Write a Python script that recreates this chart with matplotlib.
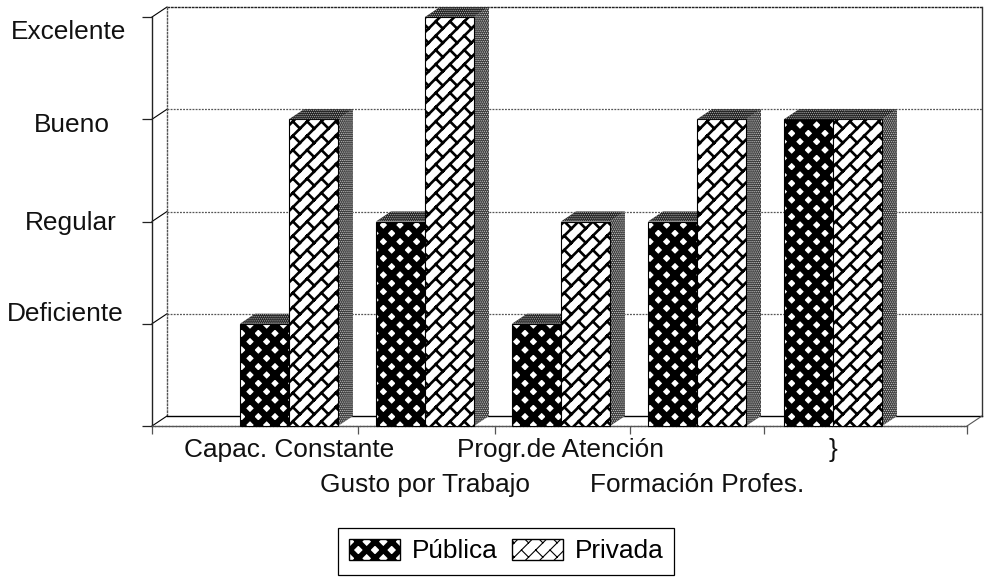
import numpy as np
import matplotlib
matplotlib.use("Agg")
import matplotlib.pyplot as plt
from matplotlib import hatch as mhatch
from matplotlib.patches import Patch, Polygon
from matplotlib.path import Path

categorias = ["Capac. Constante", "Gusto por Trabajo", "Progr.de Atención", "Formación Profes.", "}"]
publica = [1, 2, 1, 2, 3]
privada = [3, 4, 2, 3, 3]
niveles = ["Deficiente", "Regular", "Bueno", "Excelente"]

plt.rcParams['font.family'] = ['Liberation Sans', 'DejaVu Sans']


# ladrillos en diagonal: no hay hatch asi en matplotlib, se usa el simbolo '*'
class BrickHatch(mhatch.HatchPatternBase):
    def __init__(self, hatch, density):
        segs = []
        if '*' in hatch:
            n = 7
            for k in range(-2 * n, 2 * n):
                off = k / n
                segs.append([[-1, -1 + off], [2, 2 + off]])
                for j in range(-n, 2 * n):
                    t = j / n
                    segs.append([[t, t + off], [t - 1 / (2 * n), t + 1 / (2 * n) + off]])
        self.segs = np.array(segs).reshape(-1, 2, 2)
        self.num_vertices = len(self.segs) * 2

    def set_vertices_and_codes(self, vertices, codes):
        vertices[0::2] = self.segs[:, 0]
        vertices[1::2] = self.segs[:, 1]
        codes[0::2] = Path.MOVETO
        codes[1::2] = Path.LINETO


mhatch._hatch_types = [BrickHatch if t is mhatch.Stars else t for t in mhatch._hatch_types]

W, H = 991, 583
fig = plt.figure(figsize=(W / 100, H / 100), dpi=100)
ax = fig.add_axes([152 / W, 1 - 426 / H, (967 - 152) / W, (426 - 17) / H])

x = np.arange(len(categorias))
ancho = 0.36
ax.set_xlim(-1.007, 4.985)
ax.set_ylim(0, 4)

# profundidad del 3D en unidades de datos
dx = 15 / 136
dy = 10 / 102.25

# paredes del fondo
gris = '#555555'
for v in [1, 2, 3]:
    ax.plot([-1.007 + dx, 4.985 + dx], [v + dy, v + dy], color=gris, lw=0.9, ls=(0, (1.5, 1)), clip_on=False, zorder=1)
    ax.plot([-1.007, -1.007 + dx], [v, v + dy], color='black', lw=0.8, clip_on=False, zorder=1)
ax.plot([-1.007 + dx, 4.985 + dx], [4 + dy, 4 + dy], color='#222222', lw=1.0, ls=(0, (2, 0.5)), clip_on=False, zorder=1)
ax.plot([-1.007, -1.007 + dx], [4, 4 + dy], color='black', lw=0.8, clip_on=False, zorder=1)
ax.plot([-1.007 + dx, -1.007 + dx], [dy, 4 + dy], color=gris, lw=1.0, ls=(0, (2, 0.5)), clip_on=False, zorder=1)
ax.plot([4.985 + dx, 4.985 + dx], [dy, 4 + dy], color='#333333', lw=1.0, clip_on=False, zorder=1)
ax.plot([-1.007 + dx, 4.985 + dx], [dy, dy], color='black', lw=1.0, clip_on=False, zorder=1)
ax.plot([-1.007, -1.007 + dx], [0, dy], color='black', lw=0.8, clip_on=False, zorder=1)
ax.plot([4.985, 4.985 + dx], [0, dy], color=gris, lw=0.8, clip_on=False, zorder=1)

z = 3
for serie, hatch, lw, desplaz in [(publica, 'xx', 4.6, -ancho / 2), (privada, '*', 1.9, ancho / 2)]:
    barras = ax.bar(x + desplaz, serie, ancho, color='white', edgecolor='black', linewidth=0.8,
                    hatch=hatch, zorder=z + 1, clip_on=False)
    for b in barras:
        b.set_hatch_linewidth(lw)
        x0, x1, top = b.get_x(), b.get_x() + b.get_width(), b.get_height()
        lado = Polygon([[x1, 0], [x1 + dx, dy], [x1 + dx, top + dy], [x1, top]], closed=True,
                       facecolor='#3a3a3a', edgecolor='#d0d0d0', lw=0, hatch='........', zorder=z, clip_on=False)
        techo = Polygon([[x0, top], [x0 + dx, top + dy], [x1 + dx, top + dy], [x1, top]], closed=True,
                        facecolor='#222222', edgecolor='#aaaaaa', lw=0, hatch='........', zorder=z + 2, clip_on=False)
        lado.set_hatch_linewidth(0.6)
        techo.set_hatch_linewidth(0.6)
        ax.add_patch(lado)
        ax.add_patch(techo)
    z += 3

for lado in ['top', 'right']:
    ax.spines[lado].set_visible(False)
ax.spines['left'].set_color('#222222')
ax.spines['left'].set_linewidth(1.0)
ax.spines['bottom'].set_color(gris)
ax.spines['bottom'].set_linewidth(1.0)
ax.spines['bottom'].set_linestyle((0, (2, 0.5)))

ax.set_yticks(range(5), [])
ax.set_xticks([-1.007, 0.507, 1.515, 2.507, 3.493, 4.985], [])
ax.tick_params(axis='y', length=7, width=0.9, color='#222222')
ax.tick_params(axis='x', length=6, width=0.9, color=gris)
ax.set_xticks(x, categorias, minor=True)
ax.tick_params(axis='x', which='minor', length=0, labelsize=18.9, labelcolor='#111111')
for i, tick in enumerate(ax.xaxis.get_minor_ticks()):
    tick.set_pad(9 if i % 2 == 0 else 34)

# etiquetas de nivel, a mano porque cada una va en otro lugar
pos_y = [314, 223, 125, 32]
pos_x = [65, 71, 72, 69]
for nombre, px, py in zip(niveles, pos_x, pos_y):
    fig.text(px / W, 1 - py / H, nombre, ha='center', va='center', fontsize=18.9, color='#111111')

leyenda = fig.legend(handles=[Patch(facecolor='white', edgecolor='black', hatch='xx', label='Pública'),
                              Patch(facecolor='white', edgecolor='black', hatch='*', label='Privada')],
                     loc='center', bbox_to_anchor=(506 / W, 1 - 551 / H), ncol=2, frameon=True, fancybox=False,
                     edgecolor='black', framealpha=1, fontsize=18.9, handlelength=1.95, handleheight=0.9,
                     columnspacing=0.55, handletextpad=0.45, borderpad=0.42, borderaxespad=0)
leyenda.get_frame().set_linewidth(0.9)
for h, lw in zip(leyenda.get_patches(), [4.0, 0.8]):
    h.set_hatch_linewidth(lw)

fig.savefig("out.png", dpi=100)
